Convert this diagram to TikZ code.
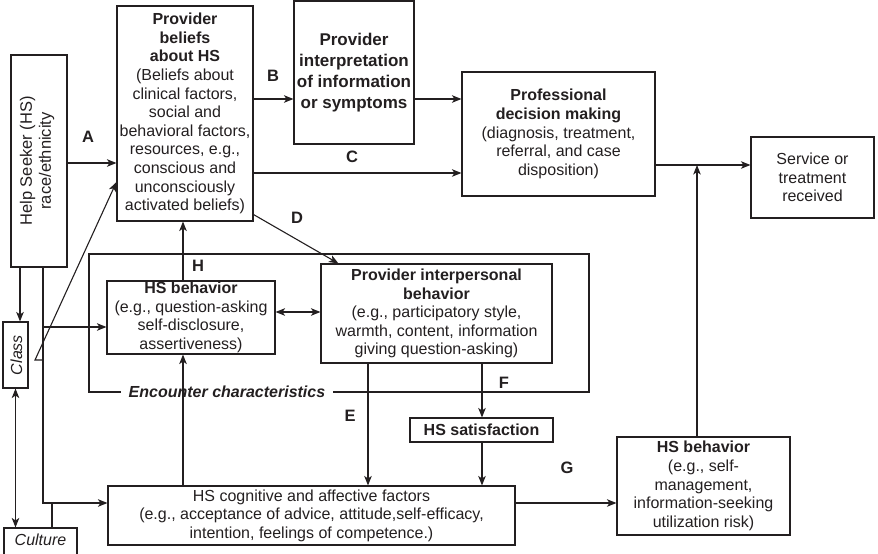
\documentclass[tikz,border=0pt]{standalone}
\usepackage{fontspec}
\setmainfont{Liberation Sans}
\usetikzlibrary{arrows.meta,calc}
\definecolor{ink}{HTML}{231F20}
\begin{document}
\begin{tikzpicture}[x=1pt,y=-1pt,
  box/.style={draw=ink, line width=1.1pt, align=center, inner sep=0pt, text=ink,
    font=\fontsize{16}{18.6}\selectfont},
  lab/.style={font=\bfseries\fontsize{16.5}{18}\selectfont, inner sep=0pt, text=ink},
  con/.style={draw=ink, line width=1.1pt},
  arr/.style={con, -{Stealth[length=9.5pt,width=7.5pt,inset=2.5pt]}},
  darr/.style={con, {Stealth[length=9.5pt,width=7.5pt,inset=2.5pt]}-{Stealth[length=9.5pt,width=7.5pt,inset=2.5pt]}}]
\useasboundingbox (0,0) rectangle (878,554);

% helper coordinates
\coordinate (yA) at (0,163);
\coordinate (yB) at (0,99);
\coordinate (yC) at (0,173);
\coordinate (yJ) at (0,165);
\coordinate (yD) at (0,182);
\coordinate (yHb) at (0,327);
\coordinate (yDb) at (0,312);
\coordinate (yK) at (0,503);
\coordinate (xV) at (43,0);
\coordinate (x20) at (20,0);
\coordinate (x52) at (52,0);
\coordinate (xH) at (183,0);
\coordinate (xE) at (368,0);
\coordinate (xF) at (482,0);
\coordinate (xJ) at (697,0);
\coordinate (hk) at (35,360);
\coordinate (vx) at (43,360);
\coordinate (eTL) at (89,254);
\coordinate (eBR) at (589,392);

% boxes
\node[box, minimum width=56, minimum height=212] (hs) at (39,161) {};
\node[rotate=90, align=center, inner sep=0pt, text=ink, font=\fontsize{16.5}{19}\selectfont] (hst) at (37,161) {Help Seeker (HS)\\race/ethnicity};

\node[box, minimum width=136, minimum height=215] (pb) at (185,113.5)
  {\textbf{Provider}\\\textbf{beliefs}\\\textbf{about HS}\\(Beliefs about\\clinical factors,\\social and\\behavioral factors,\\resources, e.g.,\\conscious and\\unconsciously\\activated beliefs)};

\node[box, minimum width=120, minimum height=143, font=\bfseries\fontsize{17}{21}\selectfont] (pi) at (354,72.5)
  {Provider\\interpretation\\of information\\or symptoms};

\node[box, minimum width=193, minimum height=124] (pd) at (558.5,134)
  {\textbf{Professional}\\\textbf{decision making}\\(diagnosis, treatment,\\referral, and case\\disposition)};

\node[box, minimum width=123, minimum height=81] (sr) at (812.5,177.5)
  {Service or\\treatment\\received};

\node[box, minimum width=168, minimum height=73] (hb) at (191,317.5)
  {\textbf{HS behavior}\\(e.g., question-asking\\self-disclosure,\\assertiveness)};

\node[box, minimum width=231, minimum height=99] (ip) at (436.5,313.5)
  {\textbf{Provider interpersonal}\\\textbf{behavior}\\(e.g., participatory style,\\warmth, content, information\\giving question-asking)};

\node[box, minimum width=143, minimum height=24] (sat) at (481.5,430)
  {\textbf{HS satisfaction}};

\node[box, minimum width=407, minimum height=59] (hc) at (311.5,515.5)
  {HS cognitive and affective factors\\(e.g., acceptance of advice, attitude,self-efficacy,\\intention, feelings of competence.)};

\node[box, minimum width=173, minimum height=98] (hb2) at (703.5,486)
  {\textbf{HS behavior}\\(e.g., self-\\management,\\information-seeking\\utilization risk)};

\node[box, minimum width=25, minimum height=66] (cl) at (15.5,355) {};
\node[rotate=90, inner sep=0pt, text=ink, font=\itshape\fontsize{16}{18}\selectfont] (clt) at (16.5,355) {Class};

\node[box, minimum width=73, minimum height=34] (cu) at (40.5,545) {};
\node[inner sep=0pt, text=ink, font=\itshape\fontsize{16}{18}\selectfont] (cut) at (40.5,540) {Culture};

% encounter frame
\node[font=\bfseries\itshape\fontsize{16}{18}\selectfont, text=ink, inner xsep=8pt, inner ysep=0pt] (enc) at (227,392) {Encounter characteristics};
\draw[con] (enc.west) -| (eTL) -| (eBR) -- (enc.east);

% letter labels
\node[lab] (lA) at (88,137) {A};
\node[lab] (lB) at (273,76) {B};
\node[lab] (lC) at (352,157) {C};
\node[lab] (lD) at (297,218) {D};
\node[lab] (lE) at (350,416) {E};
\node[lab] (lF) at (504,383) {F};
\node[lab] (lG) at (567,468) {G};
\node[lab] (lH) at (198,266) {H};

% connectors
\draw[arr] (yA -| hs.east) -- (yA -| pb.west);
\draw[arr] (vx) -- (hk) -- (pb.west |- yD);
\draw[arr] (hs.south -| xV) -- (xV |- yK) -- (hc.west |- yK);
\draw[arr] (xV |- yHb) -- (hb.west |- yHb);
\draw[con] (cu.north -| x52) -- (x52 |- yK);
\draw[arr] (hs.south -| x20) -- (cl.north -| x20);
\draw[darr] (cl.south) -- (cl.south |- cu.north);

\draw[arr] (pb.east |- yB) -- (pi.west |- yB);
\draw[arr] (pi.east |- yB) -- (pd.west |- yB);
\draw[arr] (pb.east |- yC) -- (pd.west |- yC);
\draw[arr] (pd.east |- yJ) -- (sr.west |- yJ);
\draw[arr] (hb2.north -| xJ) -- (xJ |- yJ);

\draw[arr] ($(pb.south east)+(0,-7)$) -- ($(ip.north west)+(18,0)$);
\draw[arr] (hb.north -| xH) -- (pb.south -| xH);
\draw[darr] (hb.east |- yDb) -- (ip.west |- yDb);
\draw[arr] (ip.south -| xE) -- (hc.north -| xE);
\draw[arr] (ip.south -| xF) -- (sat.north -| xF);
\draw[arr] (sat.south -| xF) -- (hc.north -| xF);
\draw[arr] (hc.north -| xH) -- (hb.south -| xH);
\draw[arr] (hc.east |- yK) -- (hb2.west |- yK);
\end{tikzpicture}
\end{document}
